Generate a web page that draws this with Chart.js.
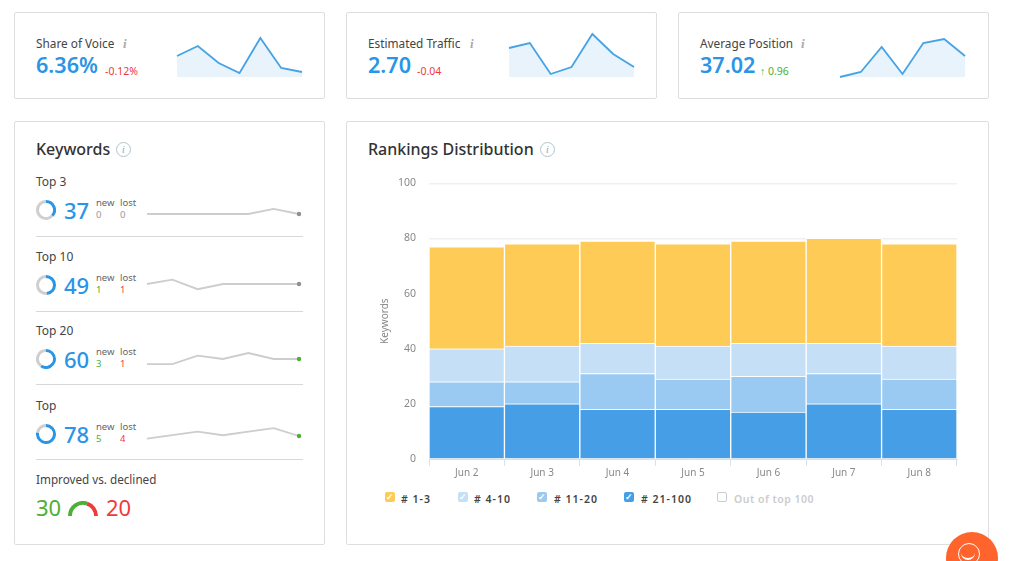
<!DOCTYPE html>
<html>
<head>
<meta charset="utf-8">
<title>Rankings overview</title>
<script src="https://cdn.jsdelivr.net/npm/chart.js@4"></script>
<style>
html, body { margin: 0; padding: 0; background: #fff; }
body { width: 1010px; height: 561px; overflow: hidden; position: relative; font-family: "Noto Sans", "Open Sans", sans-serif; color: #444; }
.abs, canvas, .card, .txt { position: absolute; }
.txt { white-space: nowrap; line-height: 1; }
.card { border: 1.5px solid #dedede; border-radius: 2px; box-sizing: border-box; background: #fff; }
.blue { color: #2a95e6; }
.green { color: #4cb034; }
.red { color: #f03a3a; }
.grey { color: #999; }
.info { width: 13px; height: 13px; border: 1px solid #b4c4cc; border-radius: 50%; font: 10px/13px "Liberation Serif", serif; font-style: italic; text-align: center; color: #90a4ae; }
.box { position: absolute; width: 10px; height: 10px; border-radius: 2px; top: 492px; color: #fff; font-size: 9px; line-height: 10px; text-align: center; font-weight: bold; }
</style>
</head>
<body>
<div class="card" style="left:14px;top:12px;width:311px;height:87px"></div>
<div class="card" style="left:346px;top:12px;width:311px;height:87px"></div>
<div class="card" style="left:678px;top:12px;width:311px;height:87px"></div>
<div class="card" style="left:14px;top:121px;width:311px;height:424px"></div>
<div class="card" style="left:346px;top:121px;width:643px;height:424px"></div>

<div class="txt" style="left:36px;top:141px;font-size:16px;font-weight:500;color:#333">Keywords</div>
<div class="abs info" style="left:116px;top:142px">i</div>
<div class="txt" style="left:368px;top:141px;font-size:16px;font-weight:500;color:#333">Rankings Distribution</div>
<div class="abs info" style="left:540px;top:142px">i</div>

<div class="txt" style="left:36px;top:474px;font-size:11.7px">Improved vs. declined</div>
<div class="txt green" style="left:36px;top:496px;font-size:22px" id="improved"></div>
<div class="txt red" style="left:106px;top:496px;font-size:22px" id="declined"></div>
<canvas id="gauge" width="30" height="15" style="left:68px;top:501px"></canvas>

<canvas id="rankChart" width="600" height="321" style="left:370px;top:164px"></canvas>

<div class="abs" style="left:946px;top:532px;width:52px;height:52px;border-radius:50%;background:#ff642d"></div>
<div class="abs" style="left:958px;top:543px;width:20px;height:20px;border:1.5px solid #fff;border-radius:50%"></div>
<div class="abs" style="left:961px;top:552px;width:14px;height:6px;border-bottom:2px solid #fff;border-radius:0 0 8px 8px"></div>

<script>
// Chart data
const days = ['Jun 2', 'Jun 3', 'Jun 4', 'Jun 5', 'Jun 6', 'Jun 7', 'Jun 8'];
const yTicks = [0, 20, 40, 60, 80, 100];

const top3Bars = [37, 37, 37, 37, 37, 38, 37];
const top10Bars = [12, 13, 11, 12, 12, 11, 12];
const top20Bars = [9, 8, 13, 11, 13, 11, 11];
const top100Bars = [19, 20, 18, 18, 17, 20, 18];
const outBars = [0, 0, 0, 0, 0, 0, 0];

const voiceTrend = [21, 31, 14, 4, 39, 9, 5];
const trafficTrend = [29, 34, 3, 10, 43, 23, 10];
const positionTrend = [0, 5, 30, 3, 34, 38, 21];

const kwTop3 = [37, 37, 37, 37, 37, 39, 37];
const kwTop10 = [49, 50.7, 47, 49, 49, 49, 49];
const kwTop20 = [58, 58, 61.3, 60, 62.3, 60, 60];
const kwTop = [77, 78.3, 79.7, 78.3, 79.7, 81, 78];

const improved = 30;
const declined = 20;

const BLUE_LINE = '#45a3e6';

function addText(text, left, top, size, cls, extra) {
  const el = document.createElement('div');
  el.className = 'txt ' + (cls || '');
  el.textContent = text;
  el.style.cssText = `left:${left}px;top:${top}px;font-size:${size}px;${extra || ''}`;
  document.body.appendChild(el);
  return el;
}

function addCanvas(left, top, width, height) {
  const c = document.createElement('canvas');
  c.width = width;
  c.height = height;
  c.style.left = left + 'px';
  c.style.top = top + 'px';
  document.body.appendChild(c);
  return c;
}

const hiddenScales = (min, max) => ({
  x: { display: false },
  y: { display: false, min, max }
});

const baseOptions = {
  responsive: false,
  animation: false,
  plugins: { legend: { display: false }, tooltip: { enabled: false } }
};

// Summary cards
const summaryCards = [
  { left: 36, title: 'Share of Voice', infoX: 123, value: '6.36%', delta: '-0.12%', deltaX: 105, cls: 'red', spark: 175, data: voiceTrend },
  { left: 368, title: 'Estimated Traffic', infoX: 470, value: '2.70', delta: '-0.04', deltaX: 417, cls: 'red', spark: 507, data: trafficTrend },
  { left: 700, title: 'Average Position', infoX: 801, value: '37.02', delta: '↑ 0.96', deltaX: 760, cls: 'green', spark: 838, data: positionTrend }
];

summaryCards.forEach(card => {
  addText(card.title, card.left, 38, 11.8, '');
  addText('i', card.infoX, 37, 13, 'grey', 'font-family:"Liberation Serif",serif;font-style:italic;font-weight:bold;color:#aaa');
  addText(card.value, card.left, 54, 21.6, 'blue', 'font-weight:600');
  addText(card.delta, card.deltaX, 66, 10.5, card.cls);

  new Chart(addCanvas(card.spark, 30, 129, 49), {
    type: 'line',
    data: {
      labels: days,
      datasets: [{
        data: card.data,
        borderColor: BLUE_LINE,
        borderWidth: 1.8,
        backgroundColor: '#e8f3fc',
        fill: 'origin',
        pointRadius: 0,
        tension: 0,
        clip: false
      }]
    },
    options: {
      ...baseOptions,
      layout: { padding: { left: 2, right: 2, top: 2, bottom: 2 } },
      scales: hiddenScales(0, 45)
    }
  });
});

// Keyword rows
const keywordRows = [
  { title: 'Top 3', total: 37, added: 0, lost: 0, y: 210, ruleY: 236, sparkY: 214, data: kwTop3, dot: '#8f8f8f', addCls: 'grey', lostCls: 'grey' },
  { title: 'Top 10', total: 49, added: 1, lost: 1, y: 285, ruleY: 311, sparkY: 284, data: kwTop10, dot: '#8f8f8f', addCls: 'green', lostCls: 'red' },
  { title: 'Top 20', total: 60, added: 3, lost: 1, y: 359, ruleY: 384, sparkY: 359, data: kwTop20, dot: '#4cb034', addCls: 'green', lostCls: 'red' },
  { title: 'Top', total: 78, added: 5, lost: 4, y: 434, ruleY: 459, sparkY: 436, data: kwTop, dot: '#4cb034', addCls: 'green', lostCls: 'red' }
];

keywordRows.forEach(row => {
  addText(row.title, 36, row.y - 34, 12, '');
  addText(row.total, 64, row.y - 11, 22, 'blue', 'font-weight:500');
  addText('new', 96, row.y - 12, 9.5, '', 'color:#666');
  addText('lost', 120, row.y - 12, 9.5, '', 'color:#666');
  addText(row.added, 96, row.y, 9.5, row.addCls);
  addText(row.lost, 120, row.y, 9.5, row.lostCls);

  const rule = document.createElement('div');
  rule.className = 'abs';
  rule.style.cssText = `left:36px;top:${row.ruleY}px;width:267px;height:1px;background:#d8d8d8`;
  document.body.appendChild(rule);

  new Chart(addCanvas(36, row.y - 10, 20, 20), {
    type: 'doughnut',
    data: {
      datasets: [{
        data: [row.total, 100 - row.total],
        backgroundColor: ['#2a95e6', '#cfcfcf'],
        borderWidth: 0
      }]
    },
    options: { ...baseOptions, cutout: '70%' }
  });

  const last = row.data.length - 1;
  new Chart(addCanvas(143, row.sparkY - 17, 160, 34), {
    type: 'line',
    data: {
      labels: days,
      datasets: [{
        data: row.data,
        borderColor: '#cdcdcd',
        borderWidth: 1.8,
        pointRadius: row.data.map((v, idx) => idx === last ? 2.2 : 0),
        pointBackgroundColor: row.dot,
        pointBorderWidth: 0,
        tension: 0,
        clip: false
      }]
    },
    options: {
      ...baseOptions,
      layout: { padding: { left: 4, right: 4, top: 2, bottom: 2 } },
      scales: hiddenScales(row.data[last] - 5, row.data[last] + 5)
    }
  });
});

// Improved vs declined gauge
document.getElementById('improved').textContent = improved;
document.getElementById('declined').textContent = declined;
new Chart(document.getElementById('gauge'), {
  type: 'doughnut',
  data: {
    datasets: [{
      data: [improved, declined],
      backgroundColor: ['#4cb034', '#f03a3a'],
      borderWidth: 0
    }]
  },
  options: { ...baseOptions, rotation: -90, circumference: 180, cutout: '74%' }
});

// Rankings distribution
const rankSeries = [
  { label: '# 21-100', data: top100Bars, color: '#459ee6' },
  { label: '# 11-20', data: top20Bars, color: '#9ac9f2' },
  { label: '# 4-10', data: top10Bars, color: '#c5dff6' },
  { label: '# 1-3', data: top3Bars, color: '#ffcb57' }
];

new Chart(document.getElementById('rankChart'), {
  type: 'bar',
  data: {
    labels: days,
    datasets: rankSeries.map(s => ({
      label: s.label,
      data: s.data,
      backgroundColor: s.color,
      borderColor: '#fff',
      borderWidth: 1,
      barPercentage: 1,
      categoryPercentage: 1
    })).concat([{
      label: 'Out of top 100',
      data: outBars,
      backgroundColor: '#ddd',
      hidden: true
    }])
  },
  options: {
    ...baseOptions,
    layout: { padding: { top: 6, right: 13, bottom: 0, left: 0 } },
    scales: {
      x: {
        stacked: true,
        afterFit: scale => { scale.height = 26; },
        border: { color: '#d6e2f2' },
        grid: { offset: true, drawOnChartArea: false, color: '#d6e2f2', tickLength: 7 },
        ticks: { color: '#888', font: { size: 10, family: 'Noto Sans' }, padding: 1 }
      },
      y: {
        stacked: true,
        min: 0,
        max: 100,
        afterBuildTicks: scale => { scale.ticks = yTicks.map(value => ({ value })); },
        afterFit: scale => { scale.width = 59; },
        border: { display: false },
        grid: { color: '#f0f0f0', lineWidth: 1.5, drawTicks: false },
        ticks: { color: '#888', font: { size: 10.5, family: 'Noto Sans' }, padding: 13 },
        title: { display: true, text: 'Keywords', color: '#888', font: { size: 10, family: 'Noto Sans' }, padding: { top: 9, bottom: 0 } }
      }
    }
  }
});

// Legend with checkbox look
const legendItems = [
  { label: '# 1-3', boxX: 385, textX: 401, color: '#ffcb57' },
  { label: '# 4-10', boxX: 458, textX: 474, color: '#c5dff6' },
  { label: '# 11-20', boxX: 537, textX: 554, color: '#9ac9f2' },
  { label: '# 21-100', boxX: 624, textX: 641, color: '#459ee6' },
  { label: 'Out of top 100', boxX: 717, textX: 734, color: null }
];

legendItems.forEach(item => {
  const box = document.createElement('div');
  box.className = 'box';
  box.style.left = item.boxX + 'px';
  if (item.color) {
    box.style.background = item.color;
    box.textContent = '✓';
  } else {
    box.style.border = '1px solid #ccc';
    box.style.boxSizing = 'border-box';
  }
  document.body.appendChild(box);
  addText(item.label, item.textX, 494, 10.5, '', (item.color ? 'color:#444;letter-spacing:1px;' : 'color:#ccc;letter-spacing:.5px;') + 'font-weight:600');
});
</script>
</body>
</html>
